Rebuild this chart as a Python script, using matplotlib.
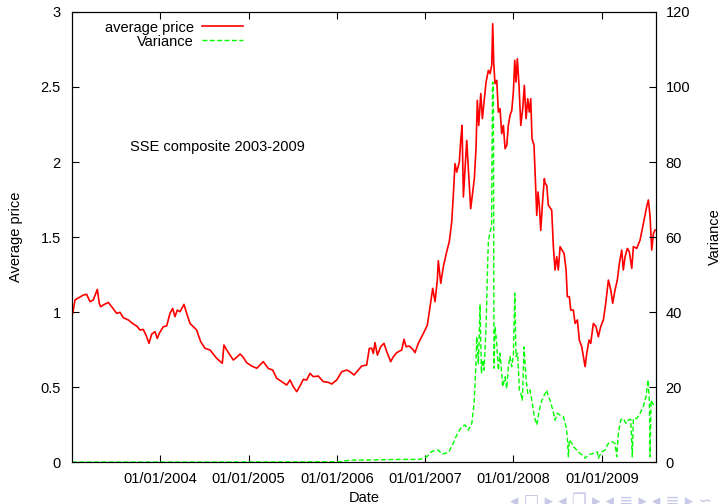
import numpy as np
import pandas as pd
import matplotlib
matplotlib.use('Agg')
import matplotlib.pyplot as plt

plt.rcParams['font.family'] = ['Liberation Sans', 'DejaVu Sans']

# SSE composite, normalised average price, decimal years
price_t = [2003.008, 2003.034, 2003.060, 2003.091, 2003.128, 2003.166, 2003.204, 2003.241,
           2003.287, 2003.309, 2003.325, 2003.354, 2003.411, 2003.450, 2003.506, 2003.544,
           2003.581, 2003.638, 2003.694, 2003.733, 2003.770, 2003.807, 2003.846, 2003.872,
           2003.903, 2003.940, 2003.966, 2003.989, 2004.034, 2004.072, 2004.110, 2004.140,
           2004.166, 2004.193, 2004.223, 2004.268, 2004.299, 2004.336, 2004.374, 2004.412,
           2004.430, 2004.458, 2004.506, 2004.563, 2004.639, 2004.702, 2004.721, 2004.752,
           2004.789, 2004.827, 2004.865, 2004.903, 2004.940, 2004.978, 2005.035, 2005.092,
           2005.166, 2005.223, 2005.273, 2005.318, 2005.375, 2005.431, 2005.469, 2005.506,
           2005.545, 2005.582, 2005.620, 2005.658, 2005.695, 2005.733, 2005.789, 2005.846,
           2005.903, 2005.941, 2005.998, 2006.054, 2006.111, 2006.148, 2006.194, 2006.242,
           2006.281, 2006.337, 2006.367, 2006.394, 2006.412, 2006.431, 2006.458, 2006.496,
           2006.533, 2006.564, 2006.609, 2006.639, 2006.677, 2006.734, 2006.760, 2006.783,
           2006.820, 2006.865, 2006.884, 2006.922, 2006.960, 2006.998, 2007.024, 2007.054,
           2007.085, 2007.111, 2007.137, 2007.148, 2007.176, 2007.205, 2007.243, 2007.273,
           2007.300, 2007.318, 2007.337, 2007.357, 2007.386, 2007.402, 2007.417, 2007.432,
           2007.451, 2007.470, 2007.488, 2007.515, 2007.538, 2007.556, 2007.575, 2007.590,
           2007.606, 2007.629, 2007.647, 2007.666, 2007.689, 2007.715, 2007.734, 2007.753,
           2007.764, 2007.776, 2007.790, 2007.810, 2007.828, 2007.847, 2007.866, 2007.885,
           2007.904, 2007.923, 2007.941, 2007.960, 2007.980, 2007.998, 2008.014, 2008.028,
           2008.043, 2008.062, 2008.082, 2008.104, 2008.122, 2008.142, 2008.161, 2008.179,
           2008.195, 2008.209, 2008.232, 2008.247, 2008.263, 2008.277, 2008.292, 2008.308,
           2008.331, 2008.349, 2008.357, 2008.376, 2008.394, 2008.405, 2008.432, 2008.451,
           2008.470, 2008.489, 2008.507, 2008.527, 2008.549, 2008.572, 2008.595, 2008.609,
           2008.632, 2008.648, 2008.677, 2008.697, 2008.723, 2008.745, 2008.772, 2008.791,
           2008.810, 2008.829, 2008.855, 2008.874, 2008.904, 2008.934, 2008.960, 2008.987,
           2009.017, 2009.044, 2009.074, 2009.101, 2009.123, 2009.149, 2009.175, 2009.198,
           2009.225, 2009.243, 2009.263, 2009.289, 2009.311, 2009.339, 2009.357, 2009.395,
           2009.433, 2009.463, 2009.489, 2009.508, 2009.527, 2009.546, 2009.565, 2009.584,
           2009.603]
price = [0.99, 1.08, 1.09, 1.10, 1.113, 1.118, 1.069, 1.08,
         1.151, 1.058, 1.035, 1.047, 1.064, 1.035, 0.991, 0.998,
         0.962, 0.947, 0.92, 0.907, 0.88, 0.884, 0.835, 0.791,
         0.853, 0.869, 0.824, 0.858, 0.902, 0.907, 0.991, 1.024,
         0.969, 1.013, 1.002, 1.051, 0.991, 0.924, 0.902, 0.88,
         0.847, 0.802, 0.758, 0.747, 0.691, 0.658, 0.78, 0.747,
         0.713, 0.68, 0.698, 0.72, 0.698, 0.662, 0.64, 0.625,
         0.669, 0.624, 0.613, 0.558, 0.536, 0.513, 0.547, 0.502,
         0.469, 0.507, 0.551, 0.547, 0.591, 0.569, 0.573, 0.536,
         0.531, 0.52, 0.547, 0.602, 0.613, 0.602, 0.58, 0.613,
         0.64, 0.647, 0.758, 0.758, 0.724, 0.796, 0.713, 0.769,
         0.791, 0.736, 0.669, 0.702, 0.729, 0.747, 0.818, 0.769,
         0.773, 0.747, 0.729, 0.791, 0.835, 0.88, 0.913, 1.035,
         1.158, 1.069, 1.213, 1.342, 1.191, 1.302, 1.402, 1.471,
         1.6, 1.778, 1.989, 1.933, 2.0, 2.144, 2.244, 1.767,
         1.956, 2.144, 1.956, 1.689, 1.8, 1.889, 2.089, 2.411,
         2.244, 2.456, 2.289, 2.4, 2.533, 2.611, 2.589, 2.644,
         2.922, 2.656, 2.522, 2.544, 2.333, 2.356, 2.189, 2.244,
         2.089, 2.111, 2.244, 2.311, 2.344, 2.467, 2.678, 2.533,
         2.689, 2.511, 2.244, 2.356, 2.511, 2.289, 2.422, 2.333,
         2.422, 2.156, 2.111, 1.889, 1.644, 1.8, 1.711, 1.544,
         1.756, 1.889, 1.858, 1.844, 1.711, 1.702, 1.68, 1.436,
         1.28, 1.369, 1.28, 1.436, 1.413, 1.391, 1.28, 1.102,
         1.102, 1.013, 1.013, 0.924, 0.947, 0.813, 0.769, 0.702,
         0.636, 0.724, 0.813, 0.791, 0.924, 0.902, 0.835, 0.902,
         0.947, 1.058, 1.213, 1.147, 1.058, 1.147, 1.213, 1.324,
         1.413, 1.28, 1.369, 1.424, 1.402, 1.291, 1.436, 1.424,
         1.48, 1.569, 1.647, 1.702, 1.747, 1.636, 1.413, 1.524,
         1.547]

var_t = [2003.0, 2004.45, 2005.58, 2006.035, 2006.148, 2006.488, 2006.715, 2006.941,
         2007.017, 2007.074, 2007.148, 2007.187, 2007.262, 2007.318, 2007.357, 2007.413,
         2007.451, 2007.488, 2007.527, 2007.553, 2007.575, 2007.583, 2007.602, 2007.621,
         2007.636, 2007.651, 2007.666, 2007.689, 2007.708, 2007.715, 2007.734, 2007.751,
         2007.762, 2007.771, 2007.779, 2007.790, 2007.810, 2007.828, 2007.847, 2007.878,
         2007.904, 2007.923, 2007.941, 2007.960, 2007.980, 2007.998, 2008.014, 2008.028,
         2008.047, 2008.066, 2008.082, 2008.100, 2008.119, 2008.142, 2008.161, 2008.187,
         2008.213, 2008.236, 2008.263, 2008.285, 2008.308, 2008.338, 2008.368, 2008.376,
         2008.394, 2008.413, 2008.444, 2008.470, 2008.496, 2008.527, 2008.564, 2008.595,
         2008.609, 2008.621, 2008.632, 2008.659, 2008.677, 2008.716, 2008.753, 2008.791,
         2008.810, 2008.847, 2008.904, 2008.949, 2008.960, 2008.999, 2009.036, 2009.074,
         2009.112, 2009.149, 2009.168, 2009.187, 2009.214, 2009.243, 2009.274, 2009.300,
         2009.327, 2009.345, 2009.357, 2009.395, 2009.433, 2009.470, 2009.500, 2009.523,
         2009.538, 2009.546, 2009.557, 2009.576, 2009.603]
variance = [0.0, 0.0, 0.05, 0.1, 0.5, 0.6, 0.7, 0.7,
            1.4, 2.8, 3.2, 2.1, 2.5, 5.0, 7.2, 9.4,
            9.9, 8.5, 10.2, 15.6, 26.2, 33.4, 26.2, 41.9,
            23.6, 27.2, 24.5, 36.1, 53.9, 58.9, 61.3, 63.0,
            101.3, 101.0, 25.0, 36.1, 31.6, 24.5, 29.0, 20.1,
            22.7, 19.6, 25.4, 28.1, 25.4, 28.5, 45.0, 28.1,
            29.0, 19.2, 18.3, 16.5, 30.7, 21.9, 18.3, 19.2,
            15.6, 12.1, 9.9, 13.0, 15.6, 17.4, 18.7, 19.2,
            17.4, 16.5, 13.9, 11.2, 13.0, 12.5, 12.1, 9.4,
            6.7, 1.4, 5.9, 5.0, 4.1, 3.2, 2.3, 1.6,
            1.0, 1.9, 2.3, 2.7, 1.0, 2.7, 3.2, 5.0,
            5.4, 5.0, 1.4, 7.6, 11.2, 11.6, 10.3, 11.2,
            11.4, 1.4, 11.6, 11.6, 13.0, 14.8, 17.4, 21.9,
            16.5, 1.4, 16.5, 15.6, 14.8]

date_ticks = ['2004-01-01', '2005-01-01', '2006-01-01', '2007-01-01', '2008-01-01', '2009-01-01']
date_labels = ['01/01/2004', '01/01/2005', '01/01/2006', '01/01/2007', '01/01/2008', '01/01/2009']
price_ticks = [0, 0.5, 1, 1.5, 2, 2.5, 3]
price_labels = ['0', '0.5', '1', '1.5', '2', '2.5', '3']
var_ticks = [0, 20, 40, 60, 80, 100, 120]


def to_dates(years):
    years = np.asarray(years)
    return pd.Timestamp('2003-01-01') + pd.to_timedelta((years - 2003) * 365.25, unit='D')


fig = plt.figure(figsize=(7.22, 5.04), dpi=100)
ax = fig.add_axes([0.0997, 0.0833, 0.8085, 0.8929])
ax2 = ax.twinx()

l1, = ax.plot(to_dates(price_t), price, color='#ff0000', lw=1.2, label='average price')
l2, = ax2.plot(to_dates(var_t), variance, color='#00ff00', lw=1.0,
               dashes=(3.5, 1.8), label='Variance')

ax.set_xlim(to_dates([2003.0])[0], to_dates([2009.61])[0])
ax.set_ylim(0, 3)
ax2.set_ylim(0, 120)

ax.set_xticks(pd.to_datetime(date_ticks))
ax.set_xticklabels(date_labels)
ax.set_yticks(price_ticks)
ax.set_yticklabels(price_labels)
ax2.set_yticks(var_ticks)

fs = 10.5
ax.tick_params(axis='x', direction='in', length=5, top=True, labelsize=fs, pad=7)
ax.tick_params(axis='y', direction='in', length=5, labelsize=fs, pad=8)
ax2.tick_params(axis='y', direction='in', length=5, labelsize=fs, pad=7)

ax.set_xlabel('Date', fontsize=fs)
ax.xaxis.set_label_coords(0.5, -0.064)
ax.set_ylabel('Average price', fontsize=fs)
ax.yaxis.set_label_coords(-0.084, 0.5)
ax2.set_ylabel('Variance', fontsize=fs)
ax2.yaxis.set_label_coords(1.089, 0.5)

ax.text(0.0994, 0.70, 'SSE composite 2003-2009', transform=ax.transAxes,
        fontsize=fs, va='center', ha='left')

ax.legend([l1, l2], ['average price', 'Variance'], loc='upper left',
          bbox_to_anchor=(0.056, 0.981), frameon=False, markerfirst=False,
          fontsize=fs, handlelength=2.75, handletextpad=0.6, labelspacing=0.0,
          borderpad=0, borderaxespad=0)

# beamer navigation symbols, faint at the bottom right
fig.text(0.706, -0.012, '◂ □ ▸ ◂ ❐ ▸ ◂ ≡ ▸ ◂ ≡ ▸ ∽', color='#c8c8e8', fontsize=12,
         family=['DejaVu Sans'], va='bottom', ha='left')

fig.savefig('out.png', dpi=100)
